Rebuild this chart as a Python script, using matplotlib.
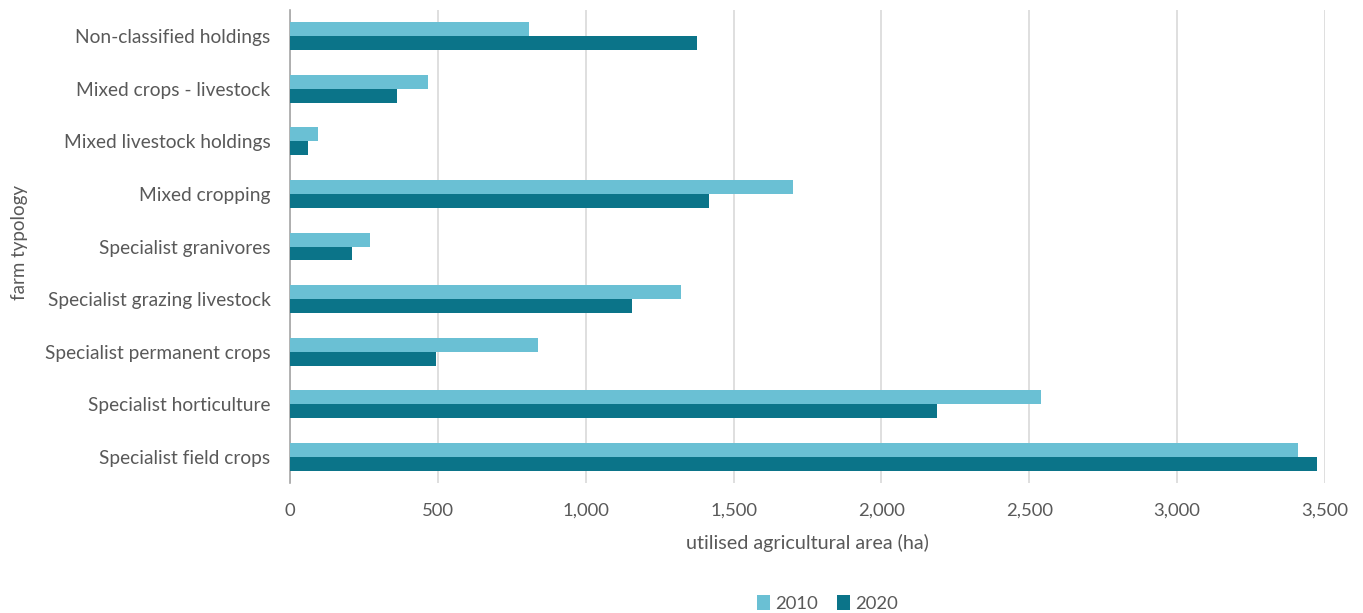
import matplotlib.pyplot as plt
import numpy as np

categories = ['Specialist field crops', 'Specialist horticulture', 'Specialist permanent crops',
              'Specialist grazing livestock', 'Specialist granivores', 'Mixed cropping',
              'Mixed livestock holdings', 'Mixed crops - livestock', 'Non-classified holdings']
area_2010 = [3409, 2538, 838, 1323, 269, 1702, 96, 465, 808]
area_2020 = [3472, 2189, 495, 1158, 208, 1416, 62, 363, 1375]
years = ['2010', '2020']

light = '#6AC0D4'
dark = '#0B7489'
grey = '#595959'

plt.rcParams['font.family'] = ['Lato', 'DejaVu Sans']

def main():
    fig = plt.figure(figsize=(13.63, 6.13), dpi=100)
    ax = fig.add_axes([0.2128, 0.2116, 0.7593, 0.7724])

    y = np.arange(len(categories))
    h = 0.265
    ax.barh(y + h / 2, area_2010, height=h, color=light, label=years[0], zorder=3)
    ax.barh(y - h / 2, area_2020, height=h, color=dark, label=years[1], zorder=3)

    ax.set_ylim(-0.5, len(categories) - 0.5)
    ax.set_xlim(0, 3500)
    ax.set_xticks(np.arange(0, 3501, 500))
    ax.set_xticklabels([f'{v:,}' for v in range(0, 3501, 500)])
    ax.set_yticks(y)
    ax.set_yticklabels(categories)

    ax.grid(axis='x', color='#D9D9D9', linewidth=1.2, zorder=0)
    for s in ['top', 'right', 'bottom']:
        ax.spines[s].set_visible(False)
    ax.spines['left'].set_color('#A6A6A6')
    ax.spines['left'].set_linewidth(1.2)
    ax.tick_params(axis='both', length=0, labelcolor=grey)
    ax.tick_params(axis='y', pad=14, labelsize=13.8)
    ax.tick_params(axis='x', pad=14, labelsize=13.3)

    ax.set_xlabel('utilised agricultural area (ha)', fontsize=14.2, color=grey, labelpad=11)
    fig.text(0.014, 0.605, 'farm typology', rotation=90, fontsize=13.5, color=grey,
             ha='center', va='center')

    fig.legend(loc='lower center', bbox_to_anchor=(0.607, -0.025), ncol=2, frameon=False,
               fontsize=13.3, labelcolor=grey, handlelength=0.7, handleheight=0.9,
               handletextpad=0.3, columnspacing=1.0)

    fig.savefig('out.png', dpi=100)

if __name__ == "__main__":
    main()
